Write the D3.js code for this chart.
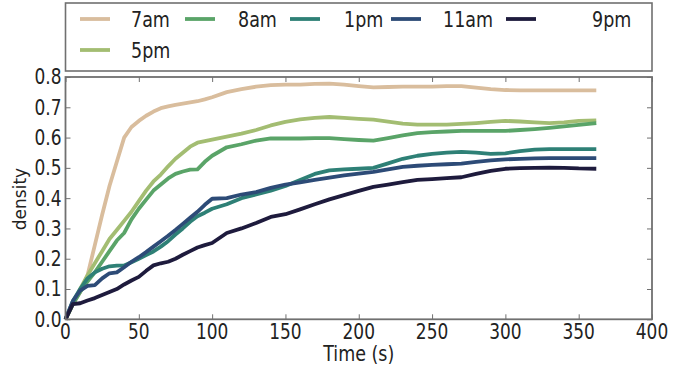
<!DOCTYPE html>
<html>
<head>
<meta charset="utf-8">
<script src="https://cdn.jsdelivr.net/npm/d3@7"></script>
<style>
  html, body { margin: 0; padding: 0; background: #fff; }
  svg { display: block; font-family: "DejaVu Sans", sans-serif; }
</style>
</head>
<body>
<svg id="chart" width="689" height="369"></svg>
<script>
// Sample times (s)
const times = [0,5,10,15,20,25,30,35,40,45,50,55,60,65,70,75,80,85,90,95,100,
  110,120,130,140,150,160,170,180,190,200,210,220,230,240,250,260,270,280,290,300,
  310,320,330,340,350,362];

// Density curves, one per time of day
const am7 = [0,0.05,0.09,0.145,0.245,0.345,0.44,0.52,0.60,0.635,0.655,0.672,0.686,0.697,0.703,0.708,0.712,0.716,0.72,0.726,0.733,
  0.75,0.76,0.768,0.773,0.775,0.775,0.777,0.778,0.775,0.77,0.766,0.767,0.768,0.768,0.768,0.77,0.77,0.765,0.76,0.757,
  0.756,0.756,0.756,0.756,0.756,0.756];
const pm5 = [0,0.05,0.10,0.145,0.185,0.225,0.265,0.295,0.325,0.355,0.39,0.425,0.455,0.478,0.505,0.53,0.55,0.57,0.583,0.588,0.593,
  0.603,0.613,0.625,0.64,0.652,0.66,0.665,0.668,0.665,0.662,0.659,0.653,0.646,0.643,0.643,0.643,0.645,0.648,0.652,0.655,
  0.653,0.65,0.648,0.65,0.655,0.657];
const am8 = [0,0.05,0.09,0.125,0.155,0.19,0.225,0.26,0.285,0.33,0.365,0.395,0.425,0.445,0.465,0.48,0.488,0.494,0.495,0.52,0.54,
  0.568,0.578,0.59,0.597,0.597,0.597,0.598,0.598,0.595,0.592,0.59,0.598,0.607,0.615,0.618,0.62,0.622,0.622,0.622,0.622,
  0.625,0.628,0.632,0.637,0.642,0.648];
const pm1 = [0,0.06,0.10,0.135,0.155,0.167,0.175,0.177,0.178,0.188,0.20,0.212,0.224,0.24,0.258,0.28,0.30,0.322,0.34,0.352,0.365,
  0.38,0.40,0.412,0.425,0.44,0.46,0.48,0.492,0.495,0.497,0.50,0.515,0.53,0.54,0.546,0.55,0.553,0.55,0.546,0.548,
  0.555,0.56,0.562,0.562,0.562,0.562];
const am11 = [0,0.06,0.095,0.11,0.113,0.135,0.152,0.155,0.172,0.19,0.205,0.222,0.24,0.258,0.276,0.295,0.315,0.335,0.355,0.378,0.398,
  0.40,0.412,0.42,0.434,0.445,0.452,0.46,0.468,0.475,0.481,0.487,0.495,0.503,0.507,0.51,0.512,0.514,0.52,0.525,0.528,
  0.53,0.531,0.532,0.532,0.532,0.532];
const pm9 = [0,0.05,0.053,0.062,0.07,0.08,0.09,0.10,0.115,0.128,0.14,0.16,0.178,0.185,0.19,0.20,0.213,0.225,0.237,0.245,0.252,
  0.285,0.30,0.318,0.338,0.347,0.363,0.38,0.396,0.41,0.424,0.437,0.445,0.453,0.46,0.463,0.466,0.469,0.48,0.49,0.497,
  0.499,0.50,0.501,0.50,0.498,0.497];

// Series in drawing / legend order
const labels = ["7am", "5pm", "8am", "1pm", "11am", "9pm"];
const seriesValues = [am7, pm5, am8, pm1, am11, pm9];
const colors = ["#d9bd9d", "#a3bd72", "#5aa468", "#2e8076", "#2d4b77", "#1e1b3d"];

const xTicks = [0, 50, 100, 150, 200, 250, 300, 350, 400];
const yTicks = [0.0, 0.1, 0.2, 0.3, 0.4, 0.5, 0.6, 0.7, 0.8];

const svg = d3.select("#chart");
const plotLeft = 65.5, plotRight = 652, plotTop = 77, plotBottom = 319.3;

const x = d3.scaleLinear().domain([0, 400]).range([plotLeft, plotRight]);
const y = d3.scaleLinear().domain([0, 0.8]).range([plotBottom, plotTop]);

const frameColor = "#707070";
const textColor = "#222";
const tickLen = 5;

// Text drawn with a slightly tall aspect
function label(parent, px, py, str, opts) {
  const o = Object.assign({ anchor: "start", size: 17, sy: 1.2, dy: "0.35em", rotate: 0 }, opts || {});
  const g = parent.append("g")
    .attr("transform", `translate(${px},${py}) rotate(${o.rotate}) scale(1,${o.sy})`);
  g.append("text")
    .attr("text-anchor", o.anchor)
    .attr("dy", o.dy)
    .style("font-size", o.size + "px")
    .attr("fill", textColor)
    .text(str);
  return g;
}

// Inward tick marks on all four sides
const gx = svg.append("g").attr("transform", `translate(0,${plotBottom})`)
  .call(d3.axisBottom(x).tickValues(xTicks).tickFormat("")
    .tickSizeInner(-tickLen).tickSizeOuter(0));
const gxTop = svg.append("g").attr("transform", `translate(0,${plotTop})`)
  .call(d3.axisTop(x).tickValues(xTicks).tickFormat("")
    .tickSizeInner(-tickLen).tickSizeOuter(0));
const gy = svg.append("g").attr("transform", `translate(${plotLeft},0)`)
  .call(d3.axisLeft(y).tickValues(yTicks).tickFormat("")
    .tickSizeInner(-tickLen).tickSizeOuter(0));
const gyRight = svg.append("g").attr("transform", `translate(${plotRight},0)`)
  .call(d3.axisRight(y).tickValues(yTicks).tickFormat("")
    .tickSizeInner(-tickLen).tickSizeOuter(0));

[gx, gxTop, gy, gyRight].forEach(g => {
  g.select(".domain").remove();
  g.selectAll(".tick line").attr("stroke", frameColor).attr("stroke-width", 1);
});

// Tick labels placed through the scales
const tickLabels = svg.append("g");
xTicks.forEach(v => label(tickLabels, x(v), plotBottom + 5, d3.format("d")(v),
  { anchor: "middle", dy: "0.73em" }));
yTicks.forEach(v => label(tickLabels, plotLeft - 4, y(v), d3.format(".1f")(v),
  { anchor: "end", dy: "0.36em" }));

// Lines
const line = d3.line()
  .x((d, i) => x(times[i]))
  .y(d => y(d));

svg.append("g").selectAll("path")
  .data(seriesValues)
  .join("path")
  .attr("d", d => line(d))
  .attr("fill", "none")
  .attr("stroke", (d, i) => colors[i])
  .attr("stroke-width", 3.8)
  .attr("stroke-linejoin", "round");

// Plot frame
svg.append("rect")
  .attr("x", plotLeft).attr("y", plotTop)
  .attr("width", plotRight - plotLeft).attr("height", plotBottom - plotTop)
  .attr("fill", "none").attr("stroke", frameColor).attr("stroke-width", 1.8);

// Axis titles
label(svg, (plotLeft + plotRight) / 2, 354, "Time (s)", { anchor: "middle", size: 17.5 });
label(svg, 20, 199, "density", { anchor: "middle", size: 17, sy: 1.0, rotate: -90 });

// Legend: five columns, entries fill column by column
const legend = svg.append("g");
legend.append("rect")
  .attr("x", plotLeft).attr("y", 3)
  .attr("width", plotRight - plotLeft).attr("height", 68)
  .attr("fill", "#fff").attr("stroke", frameColor).attr("stroke-width", 1.6);

const colX = [80, 185, 290, 391, 506];
const textX = [131, 238, 344, 443, 592];
const rowY = [19, 50];
const legendPos = [[0, 0], [0, 1], [1, 0], [2, 0], [3, 0], [4, 0]];

labels.forEach((lab, i) => {
  const [c, r] = legendPos[i];
  legend.append("line")
    .attr("x1", colX[c]).attr("x2", colX[c] + 30)
    .attr("y1", rowY[r]).attr("y2", rowY[r])
    .attr("stroke", colors[i]).attr("stroke-width", 3.8);
  label(legend, textX[c], rowY[r], lab, { size: 17.5, sy: 1.25, dy: "0.36em" });
});
</script>
</body>
</html>
